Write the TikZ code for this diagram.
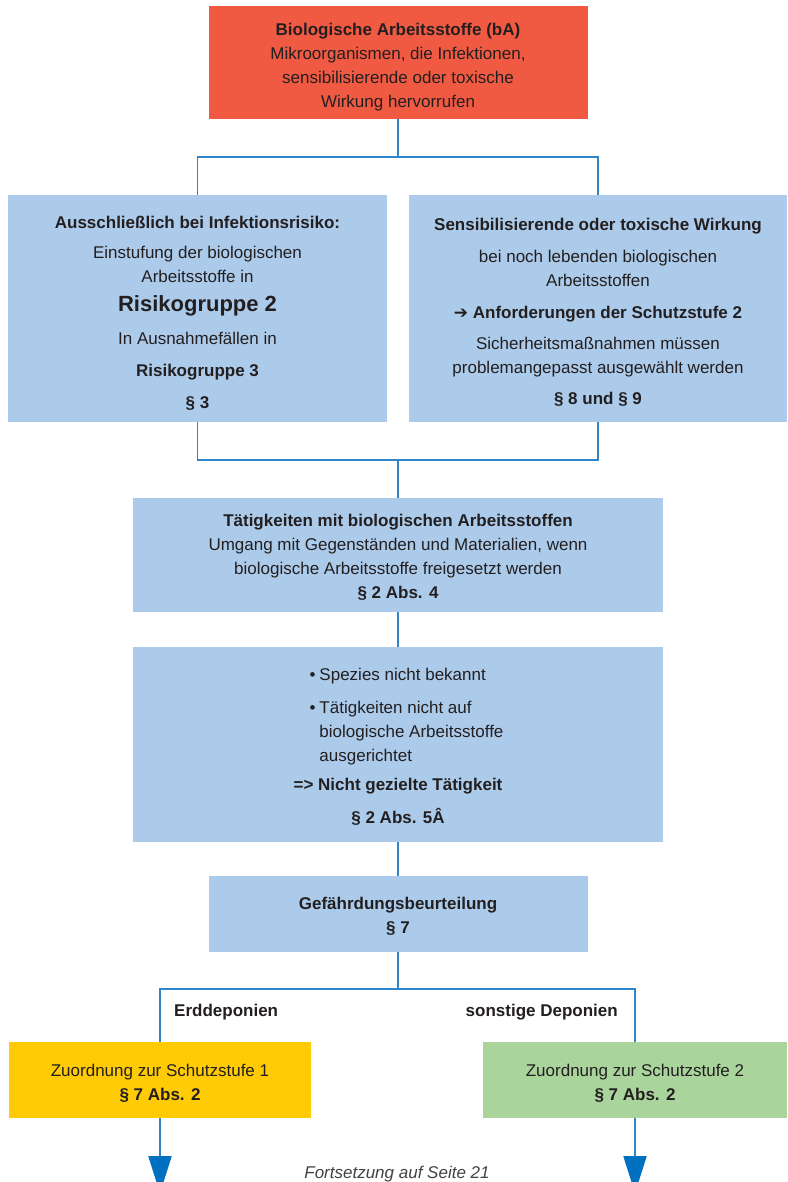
\documentclass[tikz,border=0pt]{standalone}
\usepackage{fontspec}
\setmainfont{Liberation Sans}
\newfontfamily\symfont{DejaVu Sans}
\usetikzlibrary{arrows.meta}

\definecolor{bared}{RGB}{241,90,66}
\definecolor{bablue}{RGB}{172,203,234}
\definecolor{baline}{RGB}{48,132,200}
\definecolor{baarrow}{RGB}{0,112,192}
\definecolor{bayellow}{RGB}{255,203,5}
\definecolor{bagreen}{RGB}{169,213,156}
\definecolor{batext}{RGB}{35,31,32}

% taller first line pushes a box's text down a little
\newcommand{\pushdown}[1]{\rule{0pt}{#1}}

\begin{document}
\begin{tikzpicture}[
  x=1pt, y=-1pt,
  font=\fontsize{17}{24}\selectfont,
  stage/.style={
    fill=bablue,
    align=center,
    inner sep=0pt,
    text=batext
  },
  branch/.style={
    font=\fontsize{17}{24}\selectfont\bfseries,
    text=batext,
    inner sep=0pt
  },
  link/.style={draw=baline, line width=1.6pt},
  flow/.style={link, -{Triangle[width=23pt, length=37pt, color=baarrow]}}
]

\useasboundingbox (0,0) rectangle (787,1182);
\clip (0,0) rectangle (787,1182);
\fill[white] (0,0) rectangle (787,1182);

% Main flow
\node[stage, fill=bared, minimum width=379, minimum height=113] (bA) at (398,62.5) {%
  \pushdown{22pt}\textbf{Biologische Arbeitsstoffe (bA)}\\
  Mikroorganismen, die Infektionen,\\
  sensibilisierende oder toxische\\
  Wirkung hervorrufen
};

\node[stage, minimum width=379, minimum height=227] (infekt) at (197.5,308.5) {%
  \pushdown{22.5pt}\textbf{Ausschließlich bei Infektionsrisiko:}\\[6pt]
  Einstufung der biologischen\\
  Arbeitsstoffe in\\[5pt]
  {\fontsize{22}{24}\selectfont\bfseries Risikogruppe 2}\\[9pt]
  In Ausnahmefällen in\\[8pt]
  \textbf{Risikogruppe 3}\\[8pt]
  \textbf{§ 3}
};

\node[stage, minimum width=378, minimum height=227] (sens) at (598,308.5) {%
  \pushdown{19.5pt}\textbf{Sensibilisierende oder toxische Wirkung}\\[8pt]
  bei noch lebenden biologischen\\
  Arbeitsstoffen\\[8pt]
  \textbf{{\symfont ➔} Anforderungen der Schutzstufe 2}\\[7pt]
  Sicherheitsmaßnahmen müssen\\
  problemangepasst ausgewählt werden\\[7pt]
  \textbf{§ 8 und § 9}
};

\node[stage, minimum width=530, minimum height=114] (taet) at (398,555) {%
  \pushdown{16.5pt}\textbf{Tätigkeiten mit biologischen Arbeitsstoffen}\\
  Umgang mit Gegenständen und Materialien, wenn\\
  biologische Arbeitsstoffe freigesetzt werden\\
  \textbf{§ 2 Abs. 4}
};

\node[stage, minimum width=530, minimum height=195] (nichtgez) at (398,744.5) {%
  \hspace*{17pt}\begin{tabular}{@{}l@{\hspace{4pt}}l@{}}
    \textbullet & Spezies nicht bekannt\\[9pt]
    \textbullet & Tätigkeiten nicht auf\\
     & biologische Arbeitsstoffe\\
     & ausgerichtet
  \end{tabular}\\[8pt]
  \textbf{=> Nicht gezielte Tätigkeit}\\[9pt]
  \textbf{§ 2 Abs. 5Â}
};

\node[stage, minimum width=379, minimum height=76] (gefb) at (398,914) {%
  \pushdown{17.5pt}\textbf{Gefährdungsbeurteilung}\\
  \textbf{§ 7}
};

% Branches
\node[branch, anchor=base west] (erd) at (174,1016) {Erddeponien};
\node[branch, anchor=base east] (sonst) at (618,1016) {sonstige Deponien};

\node[stage, fill=bayellow, minimum width=302, minimum height=76] (stufe1) at (160,1080) {%
  \pushdown{18.5pt}Zuordnung zur Schutzstufe 1\\
  \textbf{§ 7 Abs. 2}
};

\node[stage, fill=bagreen, minimum width=304, minimum height=76] (stufe2) at (635,1080) {%
  \pushdown{18.5pt}Zuordnung zur Schutzstufe 2\\
  \textbf{§ 7 Abs. 2}
};

% Junction points
\coordinate (split1) at (398,157);
\coordinate (join1) at (398,460);
\coordinate (split2) at (398,989);

% Connectors
\draw[link] (bA) -- (split1) -| (infekt);
\draw[link] (split1) -| (sens);
\draw[link] (infekt) |- (join1);
\draw[link] (sens) |- (join1);
\draw[link] (join1) -- (taet);
\draw[link] (taet) -- (nichtgez);
\draw[link] (nichtgez) -- (gefb);
\draw[link] (gefb) -- (split2) -| (stufe1);
\draw[link] (split2) -| (stufe2);

% Continuation arrows
\draw[flow] (stufe1.south) -- ++(0,75);
\draw[flow] (stufe2.south) -- ++(0,75);

\node[anchor=base, text=batext!85, font=\fontsize{17}{24}\selectfont\itshape] (fort) at (397,1178) {Fortsetzung auf Seite 21};

\end{tikzpicture}
\end{document}
